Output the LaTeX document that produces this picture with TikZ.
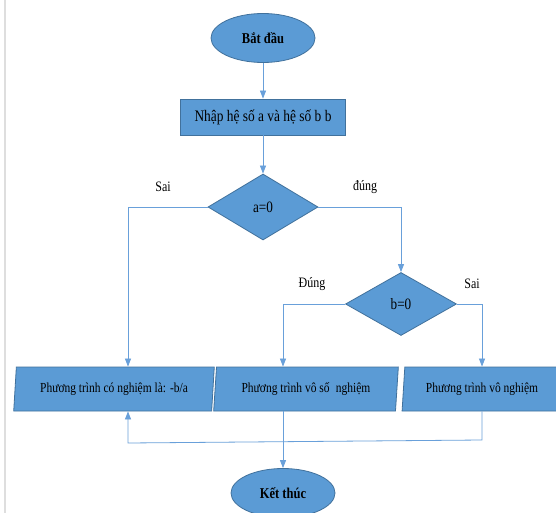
\documentclass[tikz,border=0pt]{standalone}
\usepackage{fontspec}
\usepackage{graphicx}
\setmainfont{Liberation Serif}
\usetikzlibrary{shapes.geometric,arrows.meta}
\definecolor{fillb}{RGB}{91,155,213}
\definecolor{edgeb}{RGB}{65,113,156}
\definecolor{lineb}{RGB}{105,160,218}
\newcommand{\stt}[1]{\scalebox{1}[1.2]{#1}}
\begin{document}
\begin{tikzpicture}[x=1pt,y=-1pt,
 shapebase/.style={draw=edgeb, fill=fillb, line width=0.8pt, inner sep=0pt},
 term/.style={shapebase, ellipse, minimum width=104pt, minimum height=49pt, font=\fontsize{12.5}{14}\selectfont\bfseries},
 procbox/.style={shapebase, rectangle, minimum width=165pt, minimum height=36pt, font=\fontsize{13.4}{15}\selectfont},
 decision/.style={shapebase, diamond, minimum width=110pt, minimum height=66pt, font=\fontsize{13.2}{15}\selectfont},
 iobox/.style={shapebase, trapezium, trapezium left angle=81, trapezium right angle=99, trapezium stretches=true, minimum height=44pt, font=\fontsize{11.5}{13}\selectfont},
 conn/.style={draw=lineb, line width=0.8pt},
 arr/.style={conn, -{Triangle[width=6pt,length=8pt]}},
 lbl/.style={font=\fontsize{12}{14}\selectfont, inner sep=0pt}
]
\useasboundingbox (0,0) rectangle (556,513);
\clip (0,0) rectangle (556,513);
\fill[white] (0,0) rectangle (556,513);
\draw[black!13, line width=1.3pt] (5,0) -- (5,513);

\node[term] (start) at (263,38) {\stt{Bắt đầu}};
\node[procbox] (input) at (263,117) {\stt{Nhập hệ số a và hệ số b b}};
\node[decision] (d1) at (263,207) {\stt{a=0}};
\node[decision, minimum height=63pt, minimum width=111pt] (d2) at (401,304) {\stt{b=0}};
\node[iobox, minimum width=201pt] (box1) at (114,389) {\stt{Phương trình có nghiệm là: -b/a}};
\node[iobox, minimum width=185pt] (box2) at (306,389) {\stt{Phương trình vô số\hspace{0.55em}nghiệm}};
\node[iobox, minimum width=160pt] (box3) at (482,389) {\stt{Phương trình vô nghiệm}};
\node[term] (stop) at (283,493) {\stt{Kết thúc}};

\node[lbl] (l1) at (163,187) {\stt{Sai}};
\node[lbl] (l2) at (365,187) {\stt{đúng}};
\node[lbl] (l3) at (312,284) {\stt{Đúng}};
\node[lbl] (l4) at (472,284) {\stt{Sai}};

\coordinate (xa) at (128,0);
\coordinate (xb) at (283,0);
\coordinate (j1) at (482,440);
\coordinate (j2) at (128,443);

\draw[arr] (start) -- (input);
\draw[arr] (input) -- (d1);
\draw[arr] (d1.west) -| (box1.north -| xa);
\draw[arr] (d1.east) -| (d2.north);
\draw[arr] (d2.west) -| (box2.north -| xb);
\draw[arr] (d2.east) -| (box3.north);
\draw[arr] (box2.south -| xb) -- (stop.north);
\draw[arr] (box3.south) -- (j1) -- (j2) -- (box1.south -| xa);
\end{tikzpicture}
\end{document}
